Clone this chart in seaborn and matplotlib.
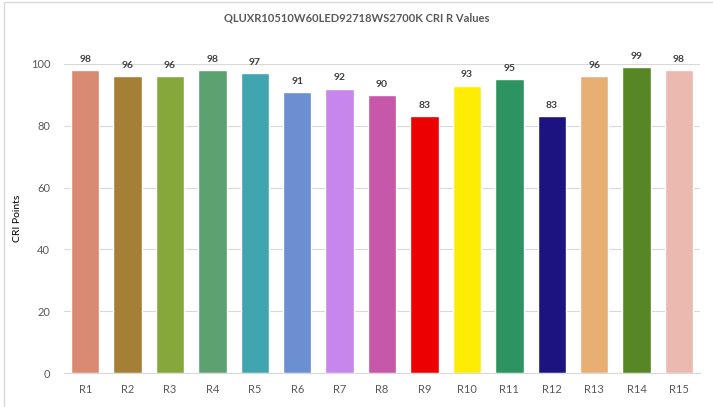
import matplotlib
matplotlib.use("Agg")
import matplotlib.pyplot as plt
import seaborn as sns
import pandas as pd

# data
labels = ["R1", "R2", "R3", "R4", "R5", "R6", "R7", "R8",
          "R9", "R10", "R11", "R12", "R13", "R14", "R15"]
values = [98, 96, 96, 98, 97, 91, 92, 90, 83, 93, 95, 83, 96, 99, 98]
colors = ["#D98A73", "#A67F36", "#86A83B", "#5CA16F", "#41A5B0",
          "#6C8FD1", "#C786EC", "#C757A9", "#EC0000", "#FFEC05",
          "#2D9461", "#1C1380", "#E8AF75", "#578625", "#EBB9AF"]
title = "QLUXR10510W60LED92718WS2700K CRI R Values"

df = pd.DataFrame({"R": labels, "val": values})

sns.set_style("white")
plt.rcParams["font.family"] = ["Lato", "DejaVu Sans"]

fig = plt.figure(figsize=(7.13, 4.07), dpi=100)
ax = fig.add_axes([0.0898, 0.0835, 0.8922, 0.7595])

sns.barplot(data=df, x="R", y="val", hue="R", palette=colors,
            legend=False, width=0.67, saturation=1, ax=ax)

ax.set_ylim(0, 100)
ax.set_xlim(-0.5, len(labels) - 0.5)
ax.set_yticks(range(0, 101, 20))
ax.yaxis.grid(True, color="#D9D9D9", linewidth=0.8)
ax.set_axisbelow(True)
for s in ["top", "right", "left"]:
    ax.spines[s].set_visible(False)
ax.spines["bottom"].set_color("#D9D9D9")
ax.tick_params(axis="both", length=0, colors="#595959", labelsize=8)
ax.tick_params(axis="x", pad=8)
ax.tick_params(axis="y", pad=10)
ax.set_xlabel("")
ax.set_ylabel("CRI Points", fontsize=7.5, color="#000000", labelpad=6)

for i, v in enumerate(values):
    ax.text(i, v + 2, str(v), ha="center", va="bottom", fontsize=7.5,
            fontweight="bold", color="#404040", clip_on=False)

fig.text(0.5, 0.955, title, ha="center", va="center", fontsize=8,
         fontweight="bold", color="#595959")

# chart border
fig.add_artist(plt.Rectangle((4 / 713, -0.1), 1.2, 1.1 - 2 / 407,
                             transform=fig.transFigure, fill=False,
                             edgecolor="#D9D9D9", linewidth=1))

fig.savefig("out.png", dpi=100)
